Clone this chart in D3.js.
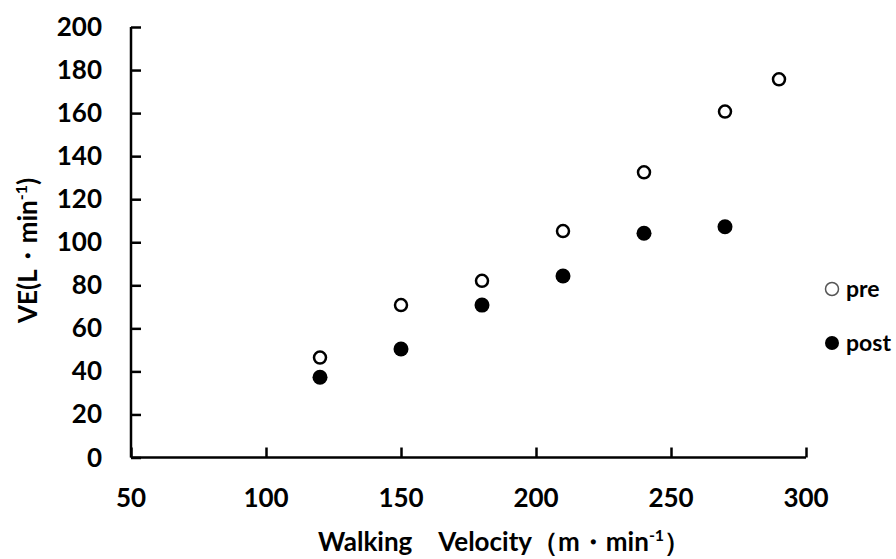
<!DOCTYPE html>
<html lang="en">
<head>
<meta charset="utf-8">
<title>VE vs walking velocity</title>
<script src="https://cdn.jsdelivr.net/npm/d3@7"></script>
<style>
  body { margin: 0; background: #fff; }
  svg { display: block; font-family: Lato, "Noto Sans", sans-serif; font-weight: bold; }
</style>
</head>
<body>
<script>
// data
var velocity = [120, 150, 180, 210, 240, 270, 290];
var preVE = [46.4, 70.8, 82.1, 105.2, 132.5, 160.7, 175.7];
var postVelocity = [120, 150, 180, 210, 240, 270];
var postVE = [37.3, 50.4, 70.8, 84.3, 104.2, 107.2];
var xTicks = [50, 100, 150, 200, 250, 300];
var yTicks = [0, 20, 40, 60, 80, 100, 120, 140, 160, 180, 200];
var legendLabels = ["pre", "post"];

var width = 896, height = 559;
var svg = d3.select("body").append("svg").attr("width", width).attr("height", height);

var x = d3.scaleLinear().domain([50, 300]).range([131, 806]);
var y = d3.scaleLinear().domain([0, 200]).range([457.5, 27]);

// axes, ticks pointing inward
var xAxis = svg.append("g").attr("transform", "translate(0," + y(0) + ")")
  .call(d3.axisTop(x).tickValues(xTicks).tickSize(10).tickFormat(""));
var yAxis = svg.append("g").attr("transform", "translate(" + x(50) + ",0)")
  .call(d3.axisRight(y).tickValues(yTicks).tickSize(10).tickFormat(""));
[xAxis, yAxis].forEach(function (g) {
  g.selectAll("path, line").attr("stroke", "#000").attr("stroke-width", 2.5);
});
xAxis.select(".domain").attr("d", "M" + x(50) + ",0H" + x(300));
yAxis.select(".domain").attr("d", "M0," + y(0) + "V" + y(200));

svg.append("g").selectAll("text").data(xTicks).enter().append("text")
  .attr("x", function (d) { return x(d); })
  .attr("y", 507)
  .attr("text-anchor", "middle")
  .attr("font-size", 26)
  .text(function (d) { return d; });

svg.append("g").selectAll("text").data(yTicks).enter().append("text")
  .attr("x", 102)
  .attr("y", function (d) { return y(d) + 9; })
  .attr("text-anchor", "end")
  .attr("font-size", 26)
  .text(function (d) { return d; });

// axis titles
var xt = svg.append("text").attr("x", 318).attr("y", 551).attr("font-size", 26);
xt.append("tspan").text("Walking\u3000Velocity\uFF08m\u30FBmin");
xt.append("tspan").attr("font-size", 16).attr("dy", -10).text("-1");
xt.append("tspan").attr("dy", 10).text("\uFF09");

var yt = svg.append("text").attr("transform", "translate(37,323) rotate(-90)").attr("font-size", 26);
yt.append("tspan").text("VE(L\u30FBmin");
yt.append("tspan").attr("font-size", 16).attr("dy", -10).text("-1");
yt.append("tspan").attr("dy", 10).text(")");

// points
svg.append("g").selectAll("circle").data(velocity).enter().append("circle")
  .attr("cx", function (d) { return x(d); })
  .attr("cy", function (d, i) { return y(preVE[i]); })
  .attr("r", 6)
  .attr("fill", "#fff")
  .attr("stroke", "#000")
  .attr("stroke-width", 2.5);

svg.append("g").selectAll("circle").data(postVelocity).enter().append("circle")
  .attr("cx", function (d) { return x(d); })
  .attr("cy", function (d, i) { return y(postVE[i]); })
  .attr("r", 7.5)
  .attr("fill", "#000");

// legend
var leg = svg.append("g");
leg.append("circle").attr("cx", 832).attr("cy", 289).attr("r", 6.5)
  .attr("fill", "#fff").attr("stroke", "#555").attr("stroke-width", 1.5);
leg.append("circle").attr("cx", 832).attr("cy", 343).attr("r", 7).attr("fill", "#000");
leg.selectAll("text").data(legendLabels).enter().append("text")
  .attr("x", 846)
  .attr("y", function (d, i) { return 297 + i * 54; })
  .attr("font-size", 23)
  .text(function (d) { return d; });
</script>
</body>
</html>
